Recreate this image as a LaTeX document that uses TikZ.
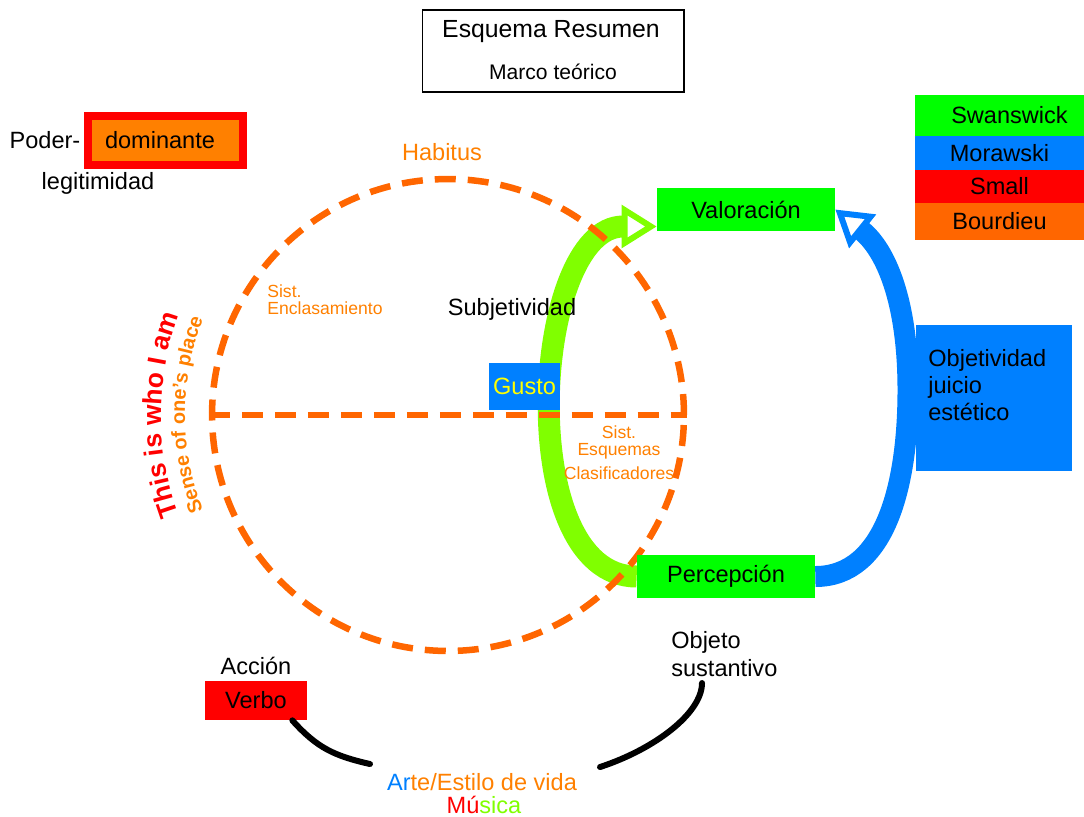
\documentclass[tikz,border=0pt]{standalone}
\usepackage{fontspec}
\setmainfont{Liberation Sans}
\usetikzlibrary{arrows.meta,backgrounds,decorations.text}

\definecolor{verdecaja}{HTML}{00FF00}
\definecolor{verdelima}{HTML}{80FF00}
\definecolor{azul}{HTML}{0080FF}
\definecolor{rojo}{HTML}{FF0000}
\definecolor{naranja}{HTML}{FF6600}
\definecolor{naranjatexto}{HTML}{FF8000}
\definecolor{amarillo}{HTML}{FFFF00}

\tikzset{
    texto/.style={font=\fontsize{13.4}{16}\selectfont, inner sep=0pt},
    caja/.style={texto, minimum width=3.56cm, minimum height=0.86cm},
    leyenda/.style={texto, minimum width=3.38cm},
    notanaranja/.style={text=naranjatexto, font=\fontsize{10}{9.6}\selectfont, inner sep=0pt},
    habitus/.style={draw=naranja, line width=0.13cm, dash pattern=on 0.42cm off 0.24cm},
    flecha verde/.style={draw=verdelima, line width=0.44cm,
        -{Triangle[open, length=0.7cm, width=0.84cm, line width=0.12cm]}},
    flecha azul/.style={draw=azul, line width=0.42cm,
        -{Triangle[open, length=0.7cm, width=0.84cm, line width=0.12cm]}},
    enlace/.style={draw=black, line width=0.12cm, line cap=round},
}

\begin{document}
\begin{tikzpicture}[x=0.02cm, y=-0.02cm]
        \useasboundingbox (0,0) rectangle (1084,816);

        \node[habitus, circle, minimum size=9.44cm, inner sep=0pt] (circulo) at (448,415) {};
        \draw[habitus] (circulo.west) -- (circulo.east);

        \node[draw, line width=0.6pt, minimum width=5.24cm, minimum height=1.64cm] (titulo) at (553,51) {};
        \node[texto, font=\fontsize{14.1}{17}\selectfont] (esquema) at (551,32) {Esquema Resumen};
        \node[texto, font=\fontsize{12}{14}\selectfont] (marco) at (553,72) {Marco teórico};

        \node[fill=naranjatexto, draw=rojo, line width=0.16cm, minimum width=3.1cm, minimum height=0.98cm] (dominante) at (165.5,140.5) {};
        \node[texto] (dominantetxt) at (160,140) {dominante};
        \node[texto] (poder) at (45,140) {Poder-};
        \node[texto] (legitimidad) at (98,183) {legitimidad};

        \node[texto, text=naranjatexto] (habitustxt) at (442,152) {Habitus};
        \node[notanaranja, align=left, anchor=west] (enclasamiento) at (267,300) {Sist.\\Enclasamiento};
        \node[texto] (subjetividad) at (512,309) {Subjetividad};
        \node[texto, fill=azul, text=amarillo, minimum width=1.42cm, minimum height=0.94cm] (gusto) at (524.5,386.5) {Gusto};
        \node[notanaranja, align=center] (esquemas) at (619,453) {Sist.\\Esquemas\\[0.14cm]Clasificadores};

        \node[caja, fill=verdecaja] (valoracion) at (746,209.5) {Valoración};
        \node[caja, fill=verdecaja] (percepcion) at (726,576.5) {Percepción};

        \node[leyenda, fill=verdecaja, minimum height=0.82cm] (swanswick) at (999.5,115.5) {\hspace{0.4cm}Swanswick};
        \node[leyenda, fill=azul, minimum height=0.68cm] (morawski) at (999.5,153) {Morawski};
        \node[leyenda, fill=rojo, minimum height=0.66cm] (small) at (999.5,186.5) {Small};
        \node[leyenda, fill=naranja, minimum height=0.74cm] (bourdieu) at (999.5,221.5) {Bourdieu};

        \node[fill=azul, minimum width=3.12cm, minimum height=2.92cm] (objetividad) at (994,398) {};
        \node[texto, align=left, anchor=west, font=\fontsize{13.4}{15.3}\selectfont] (juicio) at (928,385) {Objetividad\\juicio\\estético};

        \node[texto] (accion) at (256,666) {Acción};
        \node[texto, fill=rojo, minimum width=2.04cm, minimum height=0.78cm] (verbo) at (256,700.5) {Verbo};
        \node[texto, align=left, anchor=west, font=\fontsize{13.4}{15.9}\selectfont] (objeto) at (671,654) {Objeto\\sustantivo};
        \node[texto, text=naranjatexto] (arte) at (482,782) {{\color{azul}Ar}te/Estilo de vida};
        \node[texto, text=verdelima] (musica) at (484,805) {{\color{rojo}Mú}sica};

        \path[decorate, decoration={text along path, text align=center, text color=rojo,
            text={|\fontsize{15}{15}\selectfont\bfseries|This is who I am}}]
            (448,415) ++(148:287) arc[start angle=148, end angle=212, radius=287];
        \path[decorate, decoration={text along path, text align=center, text color=naranjatexto,
            text={|\fontsize{11.3}{11.3}\selectfont\bfseries|Sense of one's place}}]
            (448,415) ++(148:263) arc[start angle=148, end angle=212, radius=263];

        \coordinate (arteizq) at (370,764);
        \coordinate (artedcha) at (600,767);
        \coordinate (objetopie) at (702,683);
        \draw[enlace] ([xshift=-0.3cm]verbo.south east) .. controls +(25,28) and +(-35,-8) .. (arteizq);
        \draw[enlace] (artedcha) .. controls +(55,-18) and +(0,30) .. (objetopie);

        \begin{scope}[on background layer]
        \draw[flecha verde] (percepcion.west) .. controls +(-125,0) and +(-125,0) .. ([yshift=-0.34cm]valoracion.west);
        \draw[flecha azul] (percepcion.east) .. controls +(70,0) and +(0,95) .. (908,390)
            .. controls +(0,-90) and +(50,40) .. (valoracion.east);
        \end{scope}
\end{tikzpicture}
\end{document}
